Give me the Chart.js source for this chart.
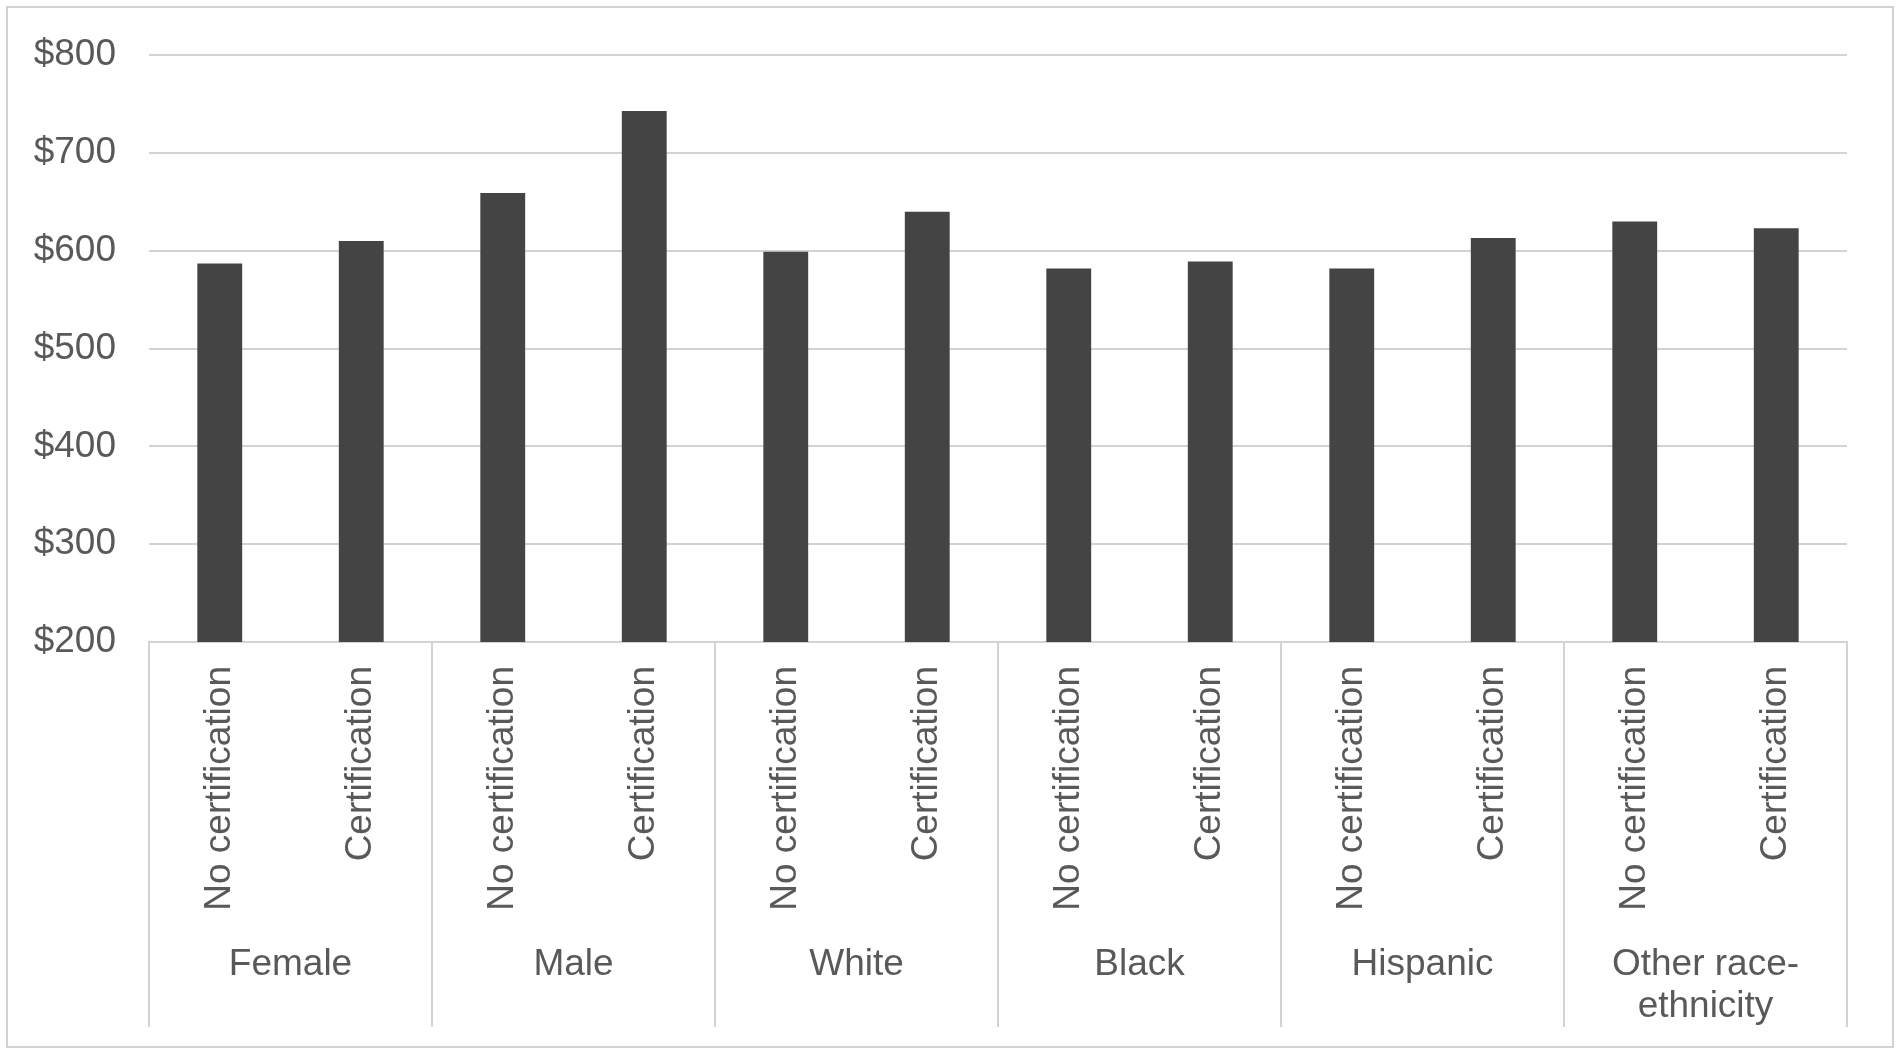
<!DOCTYPE html>
<html>
<head>
<meta charset="utf-8">
<script src="https://cdn.jsdelivr.net/npm/chart.js@4.4.1/dist/chart.umd.min.js"></script>
<style>
  html, body { margin:0; padding:0; background:#fff; }
  canvas { display:block; }
</style>
</head>
<body>
<canvas id="earnChart" width="1900" height="1055"></canvas>
<script>
// ── Data ──────────────────────────────────────────────
const groups     = ['Female', 'Male', 'White', 'Black', 'Hispanic', ['Other race-', 'ethnicity']];
const certLevels = ['No certification', 'Certification'];
const earnings   = [587, 610, 659, 743, 599, 640, 582, 589, 582, 613, 630, 623];
const yTicks     = [200, 300, 400, 500, 600, 700, 800];

const labels = groups.flatMap(() => certLevels);

const TEXT = '#595959';
const LINE = '#d3d3d3';
const FONT = "'Liberation Sans', Arial, sans-serif";

// ── Group labels, separators and outer frame ─────────
const groupPlugin = {
  id: 'groupAxis',
  beforeDraw(chart) {
    const c = chart.ctx;
    c.save();
    c.strokeStyle = LINE; c.lineWidth = 2;
    c.strokeRect(7, 7, 1886, 1040);
    c.restore();
  },
  afterDraw(chart) {
    const c = chart.ctx, x = chart.scales.x, area = chart.chartArea;
    const half = (x.getPixelForValue(1) - x.getPixelForValue(0)) / 2;
    const bottom = 1027;
    c.save();
    c.strokeStyle = LINE; c.lineWidth = 2;
    for (let i = 0; i <= groups.length; i++) {
      const px = i < groups.length ? x.getPixelForValue(i * 2) - half
                                   : x.getPixelForValue(i * 2 - 1) + half;
      c.beginPath(); c.moveTo(px, area.bottom); c.lineTo(px, bottom); c.stroke();
    }
    c.fillStyle = TEXT;
    c.font = '37px ' + FONT;
    c.textAlign = 'center'; c.textBaseline = 'middle';
    groups.forEach((g, i) => {
      const cx = (x.getPixelForValue(i * 2) + x.getPixelForValue(i * 2 + 1)) / 2;
      const lines = Array.isArray(g) ? g : [g];
      lines.forEach((l, k) => c.fillText(l, cx, 965 + k * 42));
    });
    c.restore();
  }
};

new Chart(document.getElementById('earnChart'), {
  type: 'bar',
  data: {
    labels,
    datasets: [{
      data: earnings,
      backgroundColor: '#444444',
      categoryPercentage: 1,
      barPercentage: 0.317
    }]
  },
  options: {
    responsive: false,
    devicePixelRatio: 1,
    animation: false,
    layout: { padding: { top: 52, right: 53, left: 0, bottom: 0 } },
    plugins: { legend: { display: false }, tooltip: { enabled: false } },
    scales: {
      x: {
        grid: { display: false, drawTicks: false },
        border: { display: true, color: LINE, width: 2 },
        ticks: {
          color: TEXT, font: { family: FONT, size: 37 },
          minRotation: 90, maxRotation: 90, padding: 24, autoSkip: false
        },
        afterFit: s => { s.height = 1055 - 642; }
      },
      y: {
        min: 200, max: 800,
        afterBuildTicks: s => { s.ticks = yTicks.map(v => ({ value: v })); },
        grid: { color: LINE, lineWidth: 2, drawTicks: false },
        border: { display: false },
        ticks: {
          color: TEXT, font: { family: FONT, size: 37 }, padding: 33,
          callback: v => '$' + v
        },
        afterFit: s => { s.width = 149; }
      }
    }
  },
  plugins: [groupPlugin]
});
</script>
</body>
</html>
